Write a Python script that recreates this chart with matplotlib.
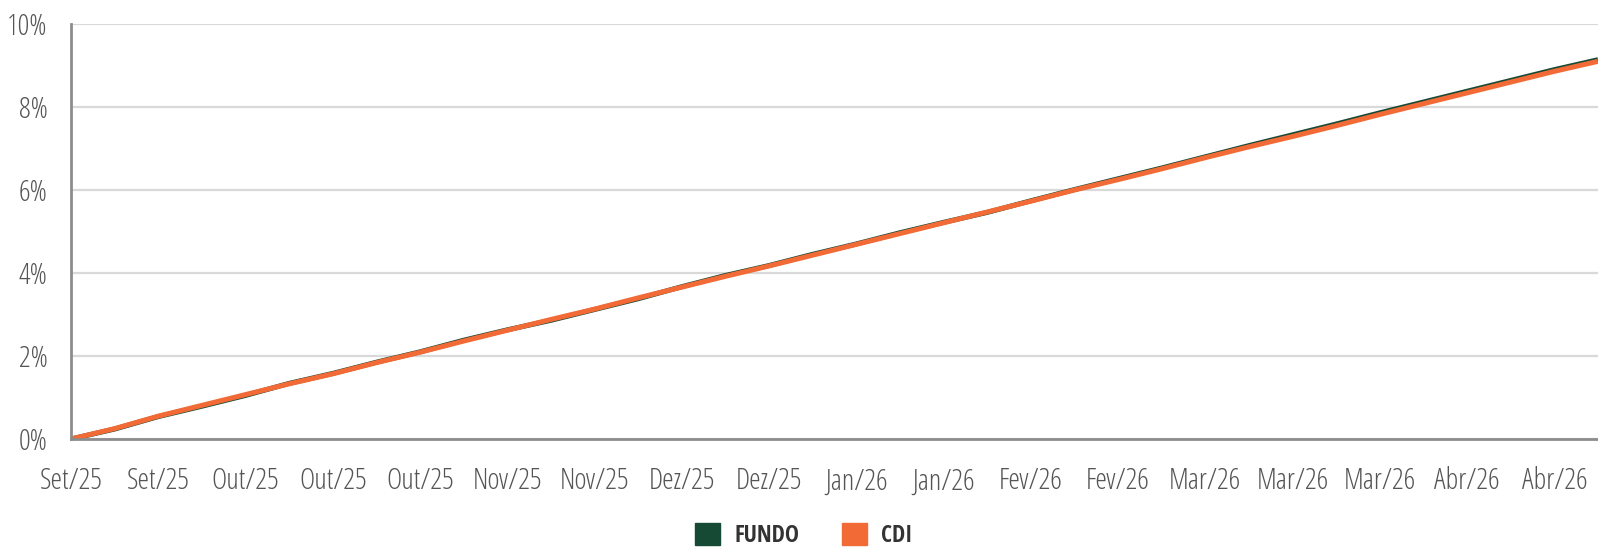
import os
import matplotlib
matplotlib.use("Agg")
import matplotlib.pyplot as plt
import matplotlib.font_manager as fm
from matplotlib.patches import Patch
from matplotlib.ticker import FuncFormatter

# tick labels (one every two points)
tick_labels = ["Set/25", "Set/25", "Out/25", "Out/25", "Out/25", "Nov/25",
               "Nov/25", "Dez/25", "Dez/25", "Jan/26", "Jan/26", "Fev/26",
               "Fev/26", "Mar/26", "Mar/26", "Mar/26", "Abr/26", "Abr/26"]

# cumulative return (%) at half-label steps
cdi = [0.00, 0.25, 0.55, 0.81, 1.07, 1.33, 1.57, 1.84, 2.09, 2.36,
       2.62, 2.88, 3.13, 3.40, 3.66, 3.92, 4.17, 4.43, 4.69, 4.95,
       5.21, 5.47, 5.73, 6.00, 6.25, 6.51, 6.78, 7.04, 7.29, 7.55,
       7.82, 8.08, 8.34, 8.60, 8.86, 9.10]
fundo = [0.00, 0.24, 0.54, 0.79, 1.05, 1.34, 1.58, 1.85, 2.10, 2.38,
         2.63, 2.86, 3.12, 3.38, 3.67, 3.94, 4.18, 4.45, 4.70, 4.97,
         5.22, 5.46, 5.74, 6.01, 6.27, 6.53, 6.80, 7.07, 7.33, 7.59,
         7.86, 8.12, 8.38, 8.64, 8.90, 9.14]

x = list(range(len(cdi)))


# look for a condensed face, the reference uses a narrow sans
def condensed_font(bold):
    prefs = ["open sans", "noto sans", "roboto", "dejavu sans", "liberation sans"]
    best = None
    for f in fm.fontManager.ttflist:
        tag = (f.name + " " + os.path.basename(f.fname)).lower()
        narrow = ("condensed" in tag or "narrow" in tag
                  or str(f.stretch) in ("condensed", "semi-condensed", "extra-condensed"))
        if not narrow or f.style != "normal" or "italic" in tag or "oblique" in tag:
            continue
        try:
            w = int(f.weight)
        except ValueError:
            w = {"light": 300, "normal": 400, "regular": 400, "bold": 700}.get(str(f.weight), 400)
        if bold and w < 600:
            continue
        if not bold and (w >= 600 or w < 300):
            continue
        fam = next((i for i, p in enumerate(prefs) if p in tag), len(prefs))
        score = (fam, abs(w - (700 if bold else 350)))
        if best is None or score < best[0]:
            best = (score, f.fname)
    if best is None:
        return fm.FontProperties(family="DejaVu Sans", weight="bold" if bold else "normal")
    return fm.FontProperties(fname=best[1])


reg = condensed_font(False)
bld = condensed_font(True)

fig = plt.figure(figsize=(15.98, 5.48), dpi=100)
ax = fig.add_axes([71 / 1598, 1 - 439 / 548, 1 - 71 / 1598, (439 - 24) / 548])

ax.plot(x, fundo, color="#164a35", lw=3.6, solid_capstyle="butt")
ax.plot(x, cdi, color="#f26a35", lw=3.6, solid_capstyle="butt")

ax.set_xlim(0, len(cdi) - 1)
ax.set_ylim(0, 10)
ax.set_yticks([0, 2, 4, 6, 8, 10])
ax.yaxis.set_major_formatter(FuncFormatter(lambda v, p: f"{v:.0f}%"))
ax.set_xticks(range(0, 2 * len(tick_labels), 2))
ax.set_xticklabels(tick_labels)

ax.tick_params(axis="both", length=0, labelcolor="#555555")
ax.tick_params(axis="x", pad=20)
ax.tick_params(axis="y", pad=17)
for lab in ax.get_xticklabels() + ax.get_yticklabels():
    lab.set_fontproperties(reg)
    lab.set_fontsize(21)

ax.grid(axis="y", color="#d9d9d9", lw=1.6)
ax.set_axisbelow(True)
for s in ["top", "right"]:
    ax.spines[s].set_visible(False)
for s in ["left", "bottom"]:
    ax.spines[s].set_color("#8c8c8c")
    ax.spines[s].set_linewidth(2)

bld.set_size(17)
handles = [Patch(color="#164a35", label="FUNDO"), Patch(color="#f26a35", label="CDI")]
leg = fig.legend(handles=handles, loc="upper center", bbox_to_anchor=(0.503, 1 - 523 / 548),
                 ncol=2, frameon=False, borderpad=0, borderaxespad=0,
                 handlelength=1.06, handleheight=1.06,
                 handletextpad=0.6, columnspacing=1.8, prop=bld)
for t in leg.get_texts():
    t.set_color("#333333")

fig.savefig("out.png", dpi=100)
plt.close(fig)
